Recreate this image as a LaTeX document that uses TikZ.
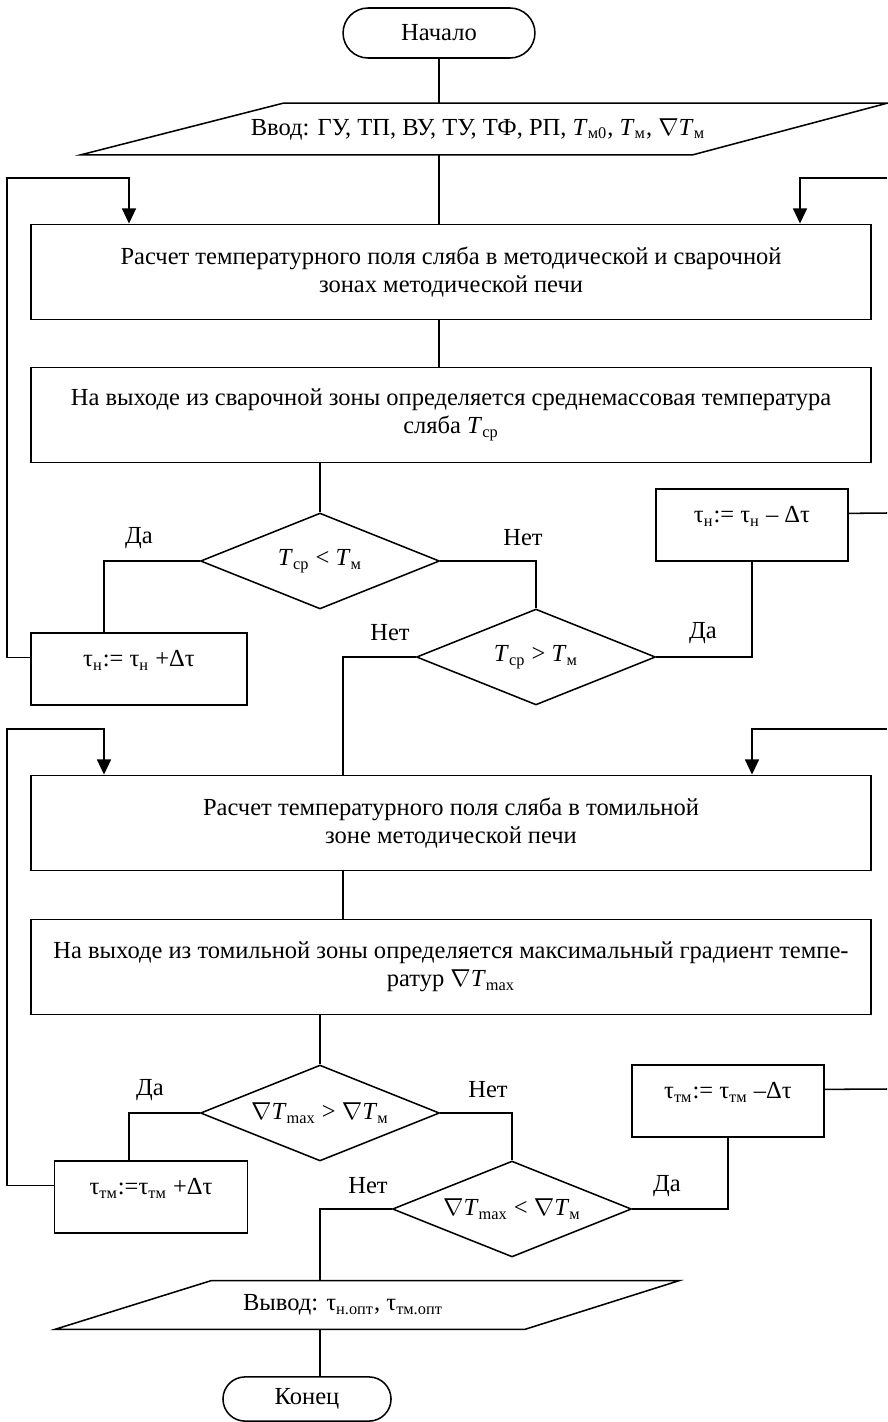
\documentclass[tikz,border=0pt]{standalone}
\usepackage{fontspec}
\setmainfont{Liberation Serif}
\usetikzlibrary{shapes.geometric,arrows.meta,calc}
\newcommand{\nab}{\ensuremath{\nabla}}
\newcommand{\Tv}{\textit{T}}
\tikzset{
	x=0.0172cm,y=-0.0172cm,
	every node/.style={font=\fontsize{12}{13.8}\selectfont},
	term/.style={draw,rounded corners=0.43cm,minimum width=3.30cm,minimum height=0.86cm},
	iotext/.style={inner sep=0pt,minimum height=0.86cm},
	box/.style={draw,align=center,minimum width=14.45cm,minimum height=1.64cm,inner sep=2pt},
	opbox/.style={draw,minimum width=3.30cm,minimum height=1.24cm,text depth=10pt},
	dec/.style={draw,diamond,aspect=2.5,inner sep=0pt,minimum width=4.11cm,minimum height=1.65cm},
	arr/.style={-{Triangle[length=0.26cm,width=0.24cm]}}
}
\begin{document}
\begin{tikzpicture}[line width=0.75pt]
	\useasboundingbox (0,0) rectangle (887,1422);
	\node[term] (beg) at (439,33) {Начало};
	\node[iotext] (inp) at (478,129) {Ввод: ГУ, ТП, ВУ, ТУ, ТФ, РП, \Tv\textsubscript{м0}, \Tv\textsubscript{м}, \nab\Tv\textsubscript{м}};
	\draw ($(inp.south)+(-397,0)$) -- ($(inp.south)+(215,0)$) -- ($(inp.north)+(409,0)$) -- ($(inp.north)+(-195,0)$) -- cycle;
	\node[box] (calc1) at (451,272) {Расчет температурного поля сляба в методической и сварочной\\зонах методической печи};
	\node[box] (tsr) at (451,415) {На выходе из сварочной зоны определяется среднемассовая температура\\сляба \Tv\textsubscript{ср}};
	\node[dec] (less1) at (320,561) {\Tv\textsubscript{ср} < \Tv\textsubscript{м}};
	\node[dec] (more1) at (536,657) {\Tv\textsubscript{ср} > \Tv\textsubscript{м}};
	\node[opbox,minimum width=3.72cm] (incn) at (139,669) {τ\textsubscript{н}:= τ\textsubscript{н} +Δτ};
	\node[opbox] (decn) at (752,525) {τ\textsubscript{н}:= τ\textsubscript{н} – Δτ};
	\node[box] (calc2) at (451,823) {Расчет температурного поля сляба в томильной\\зоне методической печи};
	\node[box] (grad) at (451,967) {На выходе из томильной зоны определяется максимальный градиент темпе-\\ратур \nab\Tv\textsubscript{max}};
	\node[dec] (more2) at (320,1113) {\nab\Tv\textsubscript{max} > \nab\Tv\textsubscript{м}};
	\node[dec] (less2) at (512,1209) {\nab\Tv\textsubscript{max} < \nab\Tv\textsubscript{м}};
	\node[opbox,minimum width=3.32cm] (inct) at (151,1197) {τ\textsubscript{тм}:=τ\textsubscript{тм} +Δτ};
	\node[opbox] (dect) at (728,1101) {τ\textsubscript{тм}:= τ\textsubscript{тм} –Δτ};
	\node[iotext,minimum height=0.81cm] (out) at (343,1305) {Вывод: τ\textsubscript{н.опт}, τ\textsubscript{тм.опт}};
	\draw ($(out.south)+(-288,0)$) -- ($(out.south)+(182,0)$) -- ($(out.north)+(336,0)$) -- ($(out.north)+(-132,0)$) -- cycle;
	\node[term,minimum width=2.89cm,minimum height=0.76cm,rounded corners=0.38cm] (fin) at (307,1399) {Конец};
	% Да / Нет
	\foreach \n/\t/\p in {ya1/Да/{(139,538)},no1/Нет/{(523,538)},no2/Нет/{(390,633)},ya2/Да/{(703,633)},
		ya3/Да/{(150,1090)},no3/Нет/{(488,1090)},no4/Нет/{(368,1186)},ya4/Да/{(667,1186)}}
		\node (\n) at \p {\t};
	% loop corners and columns
	\coordinate (lt1) at (7,178);
	\coordinate (rt1) at (887,178);
	\coordinate (rb1) at (887,513);
	\coordinate (lt2) at (7,729);
	\coordinate (rt2) at (887,729);
	\coordinate (rb2) at (887,1089);
	\coordinate (xA1) at (129,0);
	\coordinate (xA2) at (104,0);
	\coordinate (xB1) at (800,0);
	\coordinate (xM) at (343,0);
	% main column
	\draw (beg) -- (beg |- inp.north);
	\draw (beg |- inp.south) -- (beg |- calc1.north);
	\draw (beg |- calc1.south) -- (beg |- tsr.north);
	\draw (less1 |- tsr.south) -- (less1.north);
	\draw (less1.west) -| (xA2 |- incn.north);
	\draw (less1.east) -| (more1.north);
	\draw (more1.east) -| (decn.south);
	\draw (more1.west) -| (xM |- calc2.north);
	\draw (xM |- calc2.south) -- (xM |- grad.north);
	\draw (more2 |- grad.south) -- (more2.north);
	\draw (more2.west) -| (xA1 |- inct.north);
	\draw (more2.east) -| (less2.north);
	\draw (less2.east) -| (dect.south);
	\draw (less2.west) -| (more2 |- out.north);
	\draw (more2 |- out.south) -- (more2 |- fin.north);
	% loops
	\draw[arr] ([yshift=0.2cm]incn.west) -| (lt1) -| (xA1 |- calc1.north);
	\draw[arr] (rt1) -| (xB1 |- calc1.north);
	\draw ([yshift=0.2cm]decn.east) -- (rb1);
	\draw[arr] ([yshift=0.2cm]inct.west) -| (lt2) -| (xA2 |- calc2.north);
	\draw[arr] (rt2) -| (decn.south |- calc2.north);
	\draw ([yshift=0.2cm]dect.east) -- (rb2);
\end{tikzpicture}
\end{document}
